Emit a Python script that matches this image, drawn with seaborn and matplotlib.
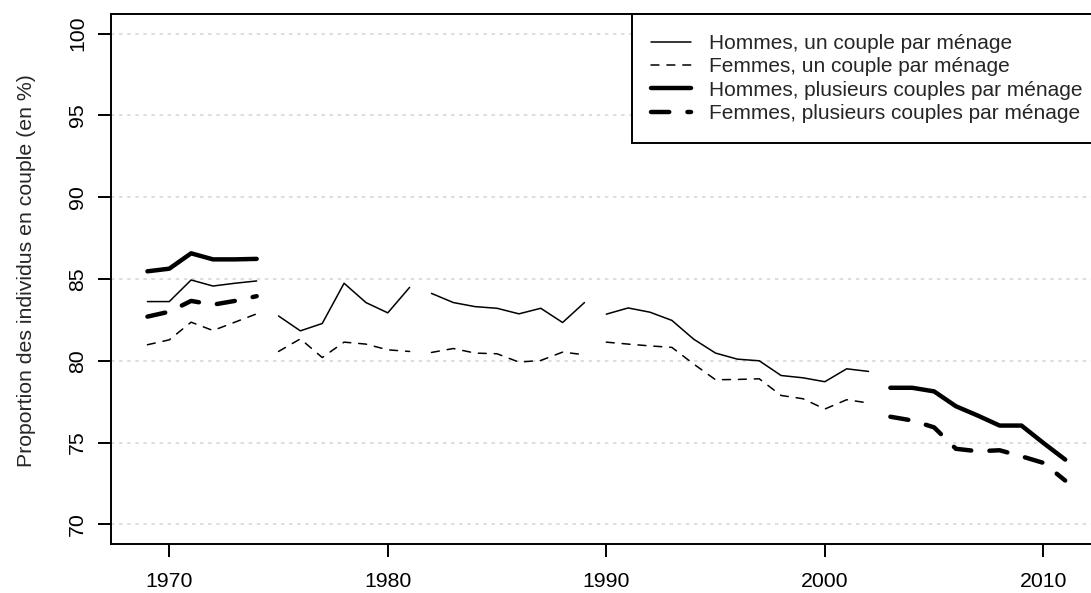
import numpy as np
import pandas as pd
import matplotlib
matplotlib.use("Agg")
import matplotlib.pyplot as plt
import seaborn as sns
from matplotlib.lines import Line2D

# --- données ---
# séries "un couple par ménage" : 1969-2002
annees_un = list(range(1969, 2003))
hommes_un = [83.62, 83.62, 84.94, 84.57, 84.74, 84.88,
             82.74, 81.83, 82.28, 84.74, 83.56, 82.93, 84.49,
             84.12, 83.56, 83.31, 83.21, 82.87, 83.21, 82.34, 83.56,
             82.85, 83.23, 82.97, 82.47, 81.32, 80.47, 80.10, 80.00, 79.10,
             78.96, 78.72, 79.51, 79.35]
femmes_un = [80.98, 81.28, 82.36, 81.85, 82.36, 82.87,
             80.57, 81.34, 80.20, 81.14, 81.02, 80.67, 80.57,
             80.51, 80.75, 80.47, 80.43, 79.92, 80.02, 80.53, 80.37,
             81.14, 81.02, 80.91, 80.82, 79.80, 78.84, 78.86, 78.90, 77.88,
             77.68, 77.05, 77.62, 77.42]

# séries "plusieurs couples par ménage" : 1969-1974 et 2003-2011
annees_plus = [1969, 1970, 1971, 1972, 1973, 1974,
               2003, 2004, 2005, 2006, 2007, 2008, 2009, 2010, 2011]
hommes_plus = [85.47, 85.63, 86.57, 86.20, 86.20, 86.23,
               78.35, 78.35, 78.13, 77.22, 76.65, 76.04, 76.04, 74.98, 73.96]
femmes_plus = [82.70, 83.00, 83.66, 83.43, 83.66, 83.95,
               76.58, 76.35, 75.93, 74.62, 74.47, 74.53, 74.16, 73.76, 72.68]

# début de chaque période d'enquête (les lignes sont coupées entre périodes)
debuts_periode = [1969, 1975, 1982, 1990, 2003]

labels = ["Hommes, un couple par ménage",
          "Femmes, un couple par ménage",
          "Hommes, plusieurs couples par ménage",
          "Femmes, plusieurs couples par ménage"]

# --- mise en forme ---
sns.set_style("white")
plt.rcParams["font.family"] = ["Liberation Sans", "DejaVu Sans"]

FS = 15.3
THIN, THICK = 1.1, 3.2
styles = [(THIN, None), (THIN, (5.2, 5.2)), (THICK, None), (THICK, (4.1, 4.1))]
series = [(annees_un, hommes_un), (annees_un, femmes_un),
          (annees_plus, hommes_plus), (annees_plus, femmes_plus)]

fig = plt.figure(figsize=(10.91, 5.93), dpi=100)
ax = fig.add_axes([0.10147, 0.08263, 0.90852, 0.89376])

for (annees, valeurs), (lw, dash) in zip(series, styles):
    d = pd.DataFrame({"annee": annees, "valeur": valeurs})
    d["periode"] = np.searchsorted(debuts_periode, d["annee"], side="right")
    kw = {"dashes": dash} if dash else {}
    sns.lineplot(data=d, x="annee", y="valeur", units="periode", estimator=None,
                 color="black", lw=lw, ax=ax,
                 solid_capstyle="round", dash_capstyle="round",
                 solid_joinstyle="round", dash_joinstyle="round", **kw)

ax.set_xlim(1967.32, 2012.68)
ax.set_ylim(68.8, 101.2)
ax.set_xticks([1970, 1980, 1990, 2000, 2010])
ax.set_yticks([70, 75, 80, 85, 90, 95, 100])

ax.yaxis.grid(True, color="#d3d3d3", lw=1.1, linestyle=(0, (2.2, 3.1)))
ax.xaxis.grid(False)
ax.set_axisbelow(True)

for sp in ax.spines.values():
    sp.set_color("black")
    sp.set_linewidth(1.4)

ax.tick_params(axis="both", direction="out", length=9.4, width=1.4,
               color="black", labelsize=FS, labelcolor="black",
               bottom=True, left=True)
ax.tick_params(axis="x", pad=10.5)
ax.tick_params(axis="y", pad=7.5, labelrotation=90)
plt.setp(ax.get_yticklabels(), va="center")

ax.set_xlabel("")
ax.set_ylabel("Proportion des individus en couple (en %)", fontsize=FS,
              va="center", ha="center")
ax.yaxis.set_label_coords(-0.085, 0.515)

handles = []
for lw, dash in styles:
    kw = {"dashes": dash} if dash else {}
    handles.append(Line2D([0], [0], color="black", lw=lw,
                          solid_capstyle="round", dash_capstyle="round", **kw))
leg = ax.legend(handles, labels, loc="upper right", bbox_to_anchor=(1, 1),
                borderaxespad=0, fontsize=15, frameon=True, fancybox=False,
                edgecolor="black", framealpha=1, handlelength=1.92,
                handletextpad=0.83, labelspacing=0.21, borderpad=0.95)
leg.get_frame().set_linewidth(1.4)

fig.savefig("out.png", dpi=100)
